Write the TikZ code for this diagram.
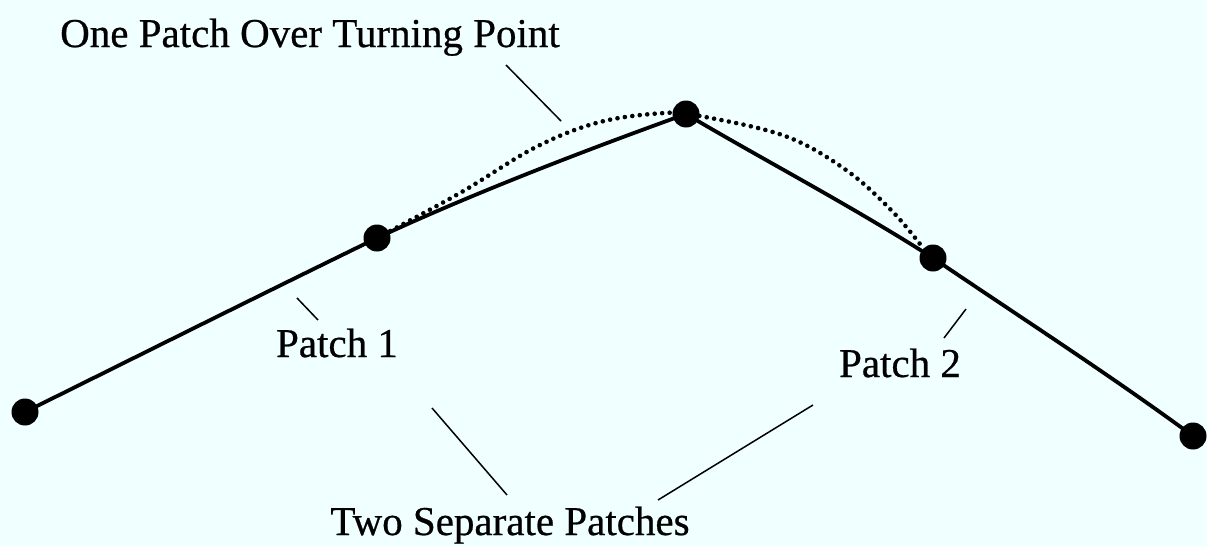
\documentclass[tikz,border=0pt]{standalone}
\usepackage{fontspec}
\setmainfont{Liberation Serif}[FakeBold=0.6]
\definecolor{bgcyan}{RGB}{240,255,255}
\begin{document}
\begin{tikzpicture}[x=1pt,y=-1pt,
  ptdot/.style={circle,fill=black,inner sep=0pt,minimum size=27pt},
  curve/.style={line width=3.8pt,line cap=round,line join=round},
  dotcurve/.style={line width=4.6pt,line cap=round,dash pattern=on 0pt off 7.5pt},
  leader/.style={line width=1.5pt},
  lbl/.style={inner sep=0pt,anchor=base,font=\fontsize{41}{49}\selectfont}]
\fill[bgcyan] (0,0) rectangle (1207,546);
\useasboundingbox (0,0) rectangle (1207,546);
% points
\node[ptdot] (p0) at (25,412) {};
\node[ptdot] (p1) at (377,238) {};
\node[ptdot] (p2) at (686,114) {};
\node[ptdot] (p3) at (933,258) {};
\node[ptdot] (p4) at (1193,436) {};
% solid patches
\draw[curve] (p0.center) .. controls (150,350) and (260,295) .. (p1.center);
\draw[curve] (p1.center) .. controls (480,190) and (600,145) .. (p2.center);
\draw[curve] (p2.center) .. controls (760,158) and (850,205) .. (p3.center);
\draw[curve] (p3.center) .. controls (1020,317) and (1110,375) .. (p4.center);
% one patch over turning point
\draw[dotcurve] plot[smooth,tension=0.6] coordinates {(p1.center) (460,193) (536,147) (600,122) (665,113) (700,116) (785,136) (846,170) (892,211) (p3.135)};
% labels
\node[lbl] (tone) at (310,47) {One Patch Over Turning Point};
\node[lbl] (tp1) at (337,357) {Patch 1};
\node[lbl] (tp2) at (900,377) {Patch 2};
\node[lbl] (ttwo) at (510,535) {Two Separate Patches};
% leader lines
\coordinate (a1) at (506,65);  \coordinate (a2) at (561,121);
\coordinate (b1) at (297,298); \coordinate (b2) at (318,320);
\coordinate (c1) at (966,309); \coordinate (c2) at (944,338);
\coordinate (d1) at (432,408); \coordinate (d2) at (507,495);
\coordinate (e1) at (813,405); \coordinate (e2) at (658,500);
\draw[leader] (a1) -- (a2);
\draw[leader] (b1) -- (b2);
\draw[leader] (c1) -- (c2);
\draw[leader] (d1) -- (d2);
\draw[leader] (e1) -- (e2);
\end{tikzpicture}
\end{document}
